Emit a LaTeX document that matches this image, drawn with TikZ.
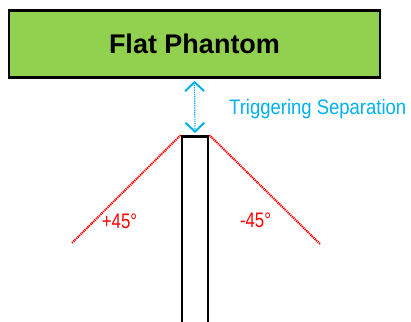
\documentclass[tikz,border=0pt]{standalone}
\usepackage{fontspec}
\setmainfont{Liberation Sans}
\usetikzlibrary{arrows.meta}
\definecolor{phgreen}{HTML}{92D050}
\definecolor{sepcyan}{HTML}{00B0F0}
\tikzset{
  phantombox/.style={draw=black, line width=2.6pt, fill=phgreen, minimum width=371pt, minimum height=67pt, inner sep=0pt,
    font=\bfseries\fontsize{27}{30}\selectfont},
  pillarbox/.style={draw=black, line width=2.6pt, fill=white, minimum width=26pt, minimum height=400pt, inner sep=0pt},
  sepline/.style={draw=sepcyan, line width=1.2pt, dash pattern=on 1pt off 0.8pt,
    {Straight Barb[length=9pt,width=19pt,line width=2pt]}-{Straight Barb[length=9pt,width=19pt,line width=2pt]}},
  seplabel/.style={text=sepcyan, inner sep=0pt, anchor=west, font=\fontsize{21}{24}\selectfont},
  angleline/.style={draw=red, line width=2pt, dash pattern=on 1.2pt off 0.8pt},
  anglelabel/.style={text=red, inner sep=0pt, font=\fontsize{21}{24}\selectfont}
}
\begin{document}
\begin{tikzpicture}[x=1pt, y=-1pt]
\clip (0,0) rectangle (411,321);
\useasboundingbox (0,0) rectangle (411,321);
\node[phantombox] (phantom) at (194.5,44) {Flat Phantom};
\node[pillarbox, anchor=north] (pillar) at (195,135) {};
\coordinate (lend) at (72,243);
\coordinate (rend) at (320,244);
\draw[angleline] (pillar.north west) -- (lend);
\draw[angleline] (pillar.north east) -- (rend);
\draw[sepline] ([yshift=-2pt]phantom.south) -- ([yshift=2pt]pillar.north);
\node[seplabel] (sep) at (229,109) {\scalebox{0.88}[1]{Triggering Separation}};
\node[anglelabel] (plus) at (119.5,221) {\scalebox{0.8}[1]{+45°}};
\node[anglelabel] (minus) at (255.5,220) {\scalebox{0.8}[1]{-45°}};
\end{tikzpicture}
\end{document}
